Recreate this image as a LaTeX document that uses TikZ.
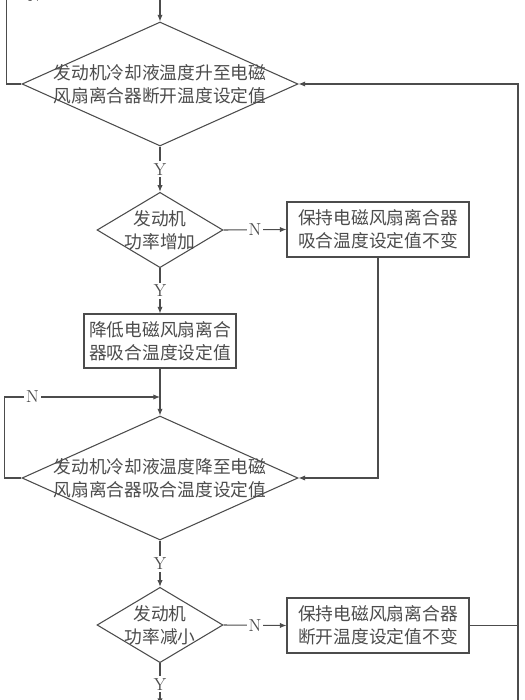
\documentclass[tikz,border=0pt]{standalone}
\usepackage{fontspec}
\usepackage{tikz}
\usetikzlibrary{shapes.geometric,arrows.meta}
\newfontfamily\cjk{Noto Sans CJK SC}
\definecolor{ink}{gray}{0.3}

\begin{document}
\begin{tikzpicture}[x=0.75pt, y=-0.75pt, line width=0.8pt, draw=ink,
	every node/.style={text=ink, align=center, font={\cjk\fontsize{13.3}{17}\selectfont}},
	decision/.style={draw, diamond, inner sep=0pt},
	bigdec/.style={decision, minimum width=207pt, minimum height=93pt},
	smalldec/.style={decision, minimum width=94.5pt, minimum height=56.5pt},
	procbox/.style={draw, rectangle, inner sep=0pt, minimum width=136.5pt, minimum height=41.25pt},
	yn/.style={fill=white, inner sep=1.5pt, font={\rmfamily\fontsize{13}{13}\selectfont}},
	flow/.style={-{Latex[length=5pt,width=4pt]}}]
	\useasboundingbox (0,0) rectangle (525,700);
	\clip (0,0) rectangle (525,700);
	% decisions
	\node[bigdec, label={center:发动机冷却液温度升至电磁\\风扇离合器断开温度设定值}] (d1) at (160,84) {};
	\node[smalldec, label={center:发动机\\功率增加}] (d2) at (160,230) {};
	\node[bigdec, label={center:发动机冷却液温度降至电磁\\风扇离合器吸合温度设定值}] (d3) at (160,478) {};
	\node[smalldec, label={center:发动机\\功率减小}] (d4) at (160,625) {};
	% boxes
	\node[procbox] (b1) at (378,229.5) {保持电磁风扇离合器\\吸合温度设定值不变};
	\node[procbox, minimum width=114pt, minimum height=40.5pt] (b2) at (160,341) {降低电磁风扇离合\\器吸合温度设定值};
	\node[procbox] (b3) at (378,625.5) {保持电磁风扇离合器\\断开温度设定值不变};
	% free ends
	\coordinate (top) at (160,-20);
	\coordinate (jt) at (160,-4);
	\coordinate (j3) at (160,397);
	\coordinate (bot) at (160,705);
	\coordinate (rb) at (518,720);

	\draw[flow] (top) -- (d1.north);
	\draw[flow] (d1.west) -- ++(-15,0) |- node[yn, pos=0.59] {N} (jt);
	\draw[flow] (d1.south) -- node[yn] {Y} (d2.north);
	\draw[flow] (d2.east) -- node[yn] {N} (b1.west);
	\draw[flow] (d2.south) -- node[yn] {Y} (b2.north);
	\draw[flow] (b1.south) |- (d3.east);
	\draw[flow] (b2.south) -- (d3.north);
	\draw[flow] (d3.west) -- ++(-17,0) |- node[yn, pos=0.59] {N} (j3);
	\draw[flow] (d3.south) -- node[yn] {Y} (d4.north);
	\draw[flow] (d4.east) -- node[yn] {N} (b3.west);
	\draw[flow] (d4.south) -- node[yn] {Y} (bot);
	\draw (b3.east) -- (b3.east -| rb);
	\draw[flow] (rb) |- (d1.east);
\end{tikzpicture}
\end{document}
